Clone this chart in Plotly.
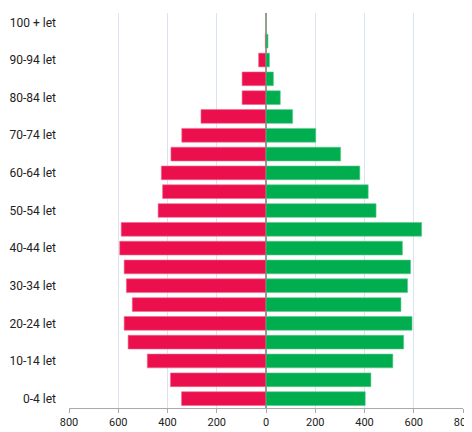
import plotly.graph_objects as go

age_groups = ["0-4 let", "5-9 let", "10-14 let", "15-19 let", "20-24 let", "25-29 let",
              "30-34 let", "35-39 let", "40-44 let", "45-49 let", "50-54 let", "55-59 let",
              "60-64 let", "65-69 let", "70-74 let", "75-79 let", "80-84 let", "85-89 let",
              "90-94 let", "95-99 let", "100 + let"]

left_values = [343, 388, 482, 560, 576, 543, 567, 576, 594, 588, 438, 420,
               425, 386, 342, 264, 97, 97, 30, 3, 0]
right_values = [403, 426, 515, 559, 593, 548, 575, 587, 554, 632, 447, 415,
                381, 303, 202, 108, 58, 30, 14, 8, 0]

shown_labels = age_groups[::2]
x_tick_values = [-800, -600, -400, -200, 0, 200, 400, 600, 800]
x_tick_text = ["800", "600", "400", "200", "0", "200", "400", "600", "800"]

font_family = "Liberation Sans Narrow, Roboto, Liberation Sans, Arial"

fig = go.Figure()
fig.add_trace(go.Bar(
    y=age_groups, x=[-v for v in left_values], orientation="h",
    marker=dict(color="#EB0F4E", line=dict(color="#F06A8C", width=0.6)),
    name="left", showlegend=False,
))
fig.add_trace(go.Bar(
    y=age_groups, x=right_values, orientation="h",
    marker=dict(color="#00AD4F", line=dict(color="#5CC98B", width=0.6)),
    name="right", showlegend=False,
))

# the page body adds an 8px offset; the figure is made wider so the last tick label is not clipped
fig.update_layout(
    width=472, height=424,
    margin=dict(l=61, r=17, t=5, b=24),
    barmode="overlay",
    bargap=0.27,
    plot_bgcolor="white",
    paper_bgcolor="white",
    font=dict(family=font_family, size=12, color="#222222"),
    xaxis=dict(
        range=[-800, 800],
        tickvals=x_tick_values, ticktext=x_tick_text,
        showgrid=True, gridcolor="#DCE3F0", gridwidth=1,
        zeroline=True, zerolinecolor="#999999", zerolinewidth=1.5,
        showline=True, linecolor="#AAAAAA", linewidth=1,
        ticks="outside", ticklen=4, tickcolor="#AAAAAA",
        tickfont=dict(size=11, color="#222222"),
        ticklabeloverflow="allow",
        automargin=False,
        fixedrange=True,
    ),
    yaxis=dict(
        categoryorder="array", categoryarray=age_groups,
        tickvals=shown_labels, ticktext=shown_labels,
        showgrid=False, ticks="", ticklen=0,
        ticklabelstandoff=12,
        tickfont=dict(size=12, color="#222222"),
        ticklabeloverflow="allow",
        range=[-0.5, 20.5],
        automargin=False,
        fixedrange=True,
    ),
)

fig.write_html("out.html")
